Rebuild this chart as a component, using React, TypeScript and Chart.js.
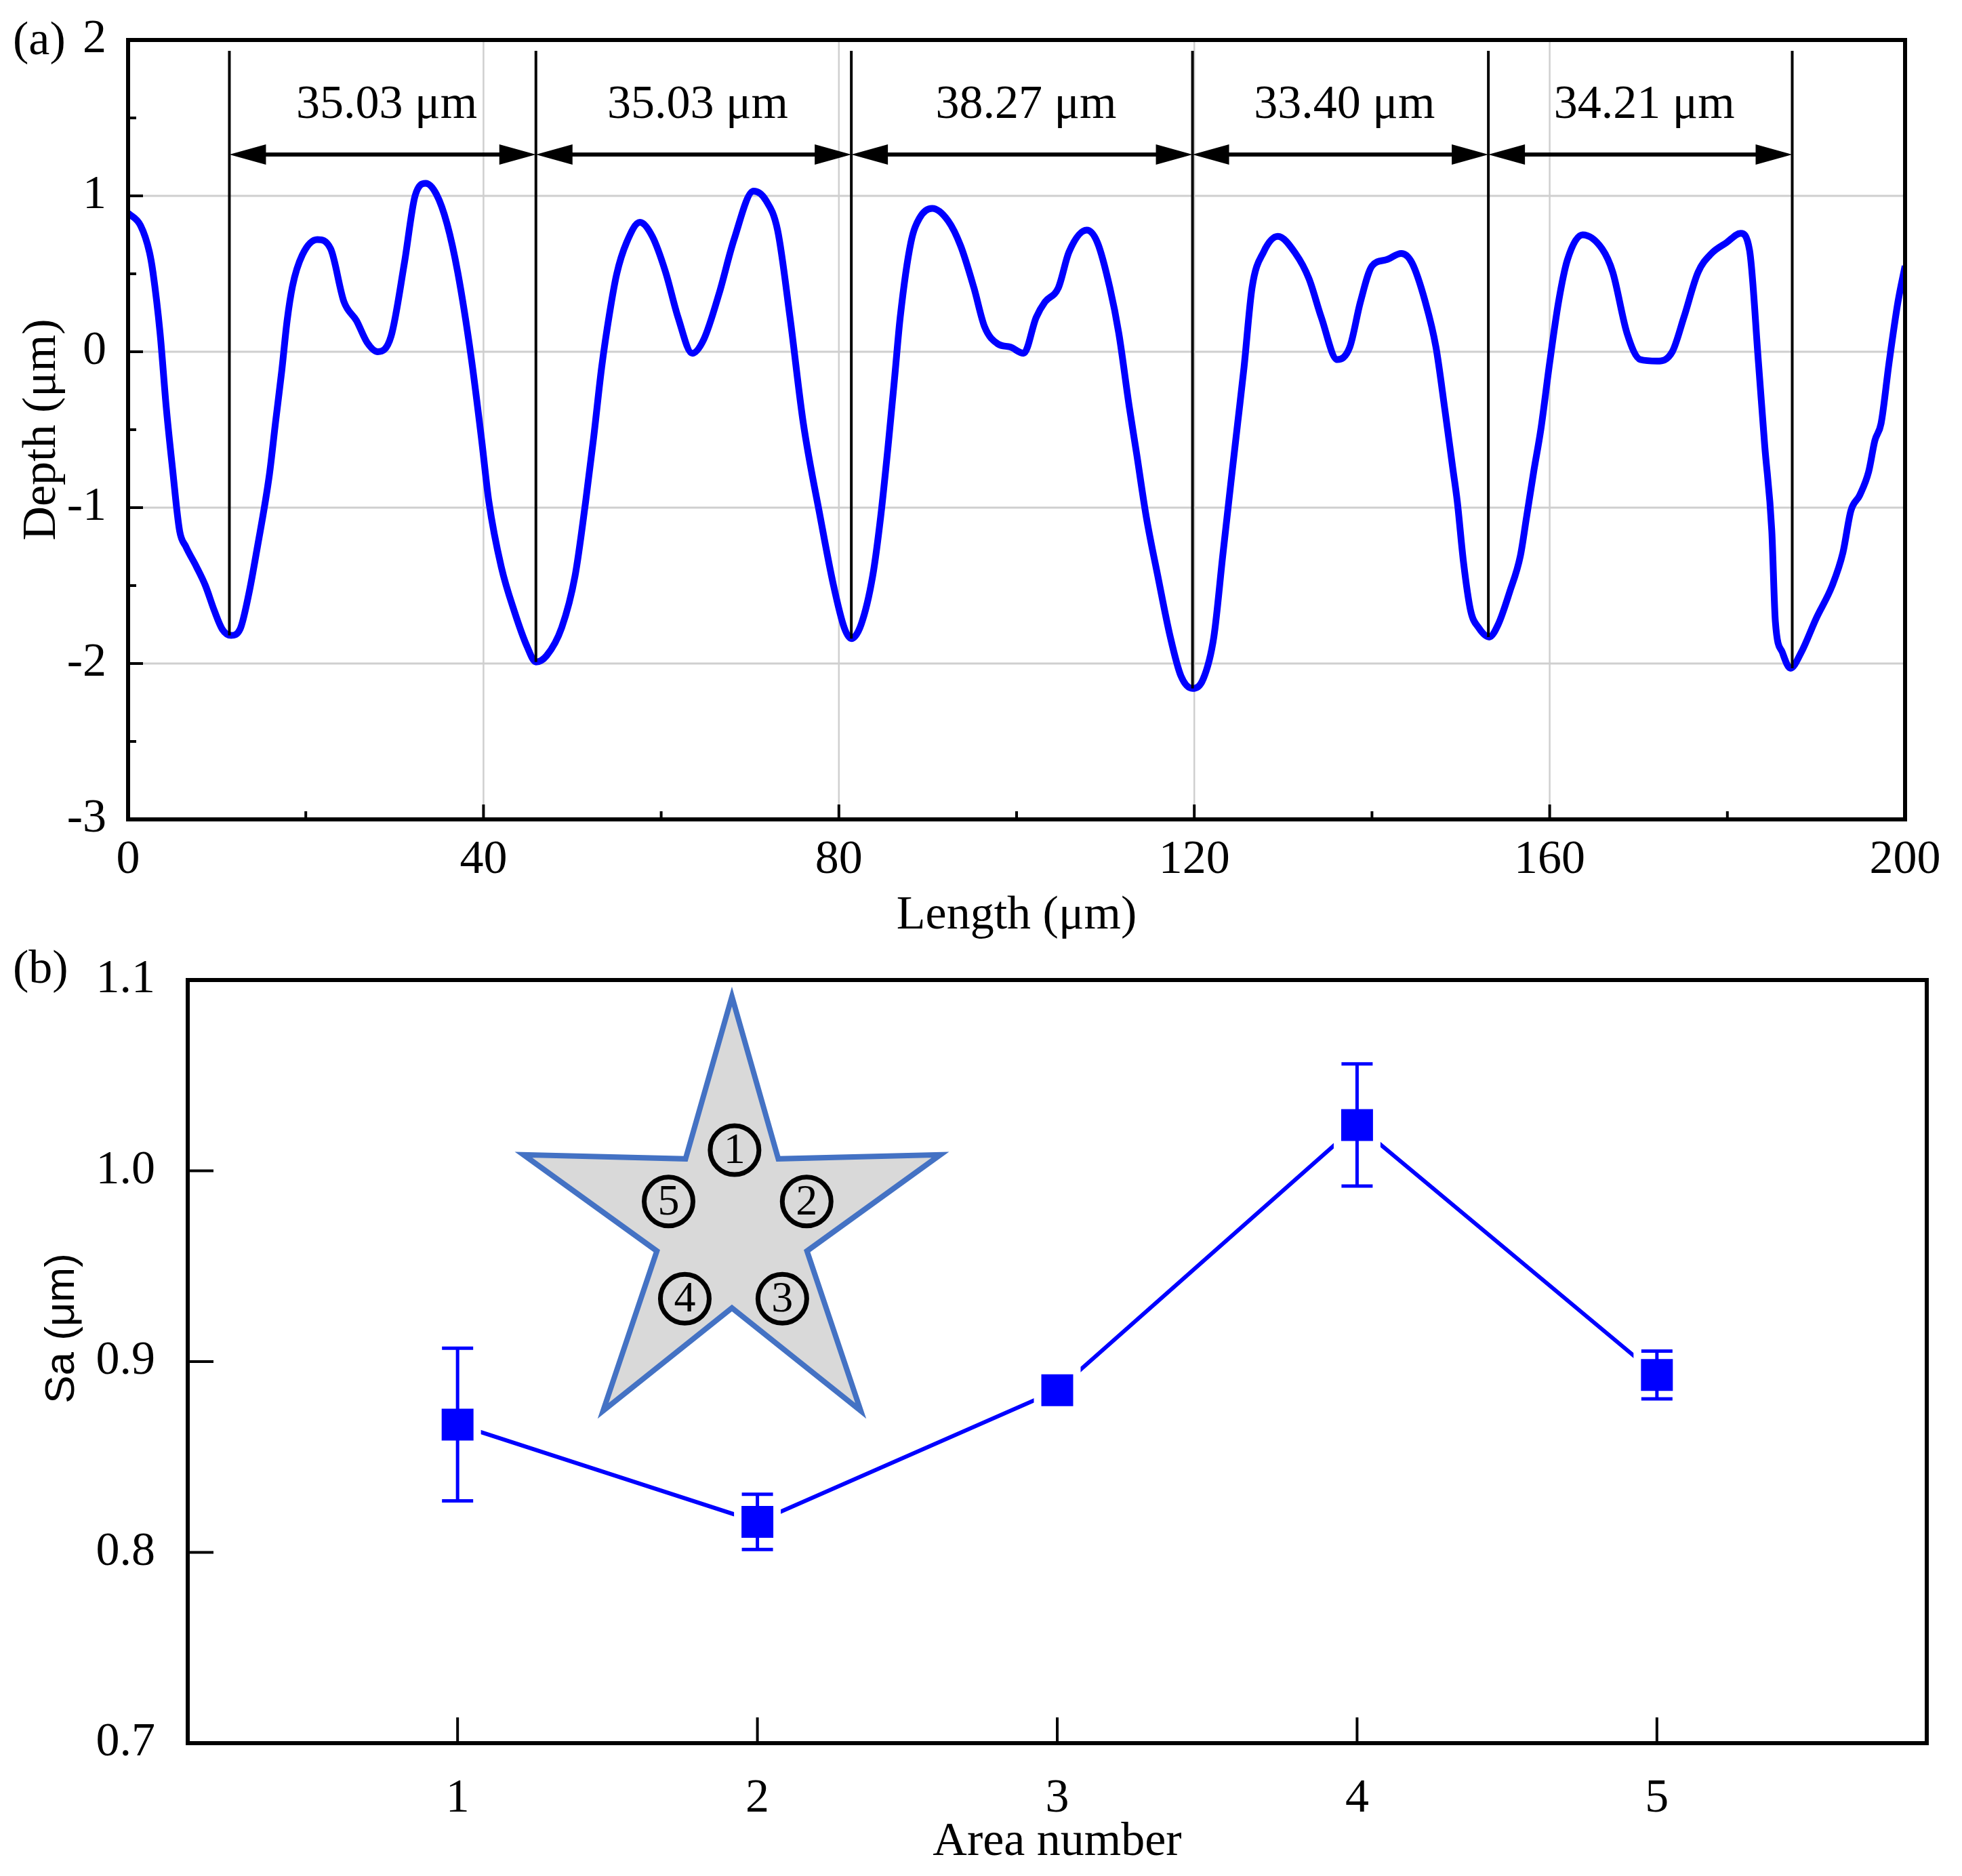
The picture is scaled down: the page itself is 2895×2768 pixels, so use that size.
import React, { useEffect, useRef } from 'react';
import { Chart, registerables } from 'chart.js';

Chart.register(...registerables);

// ---------- Panel (a): surface profile ----------
const lengthX = [
  0, 1.4, 2.4, 2.8, 3.6, 4.3, 5.0, 5.8, 6.5, 7.7,
  8.7, 9.7, 10.6, 11.6, 12.6, 13.6, 14.5, 15.9, 16.6, 17.3,
  17.9, 18.5, 19.6, 21.3, 22.8, 24.3, 25.7, 26.9, 28.1, 29.6,
  31.1, 32.3, 33.5, 34.7, 35.9, 37.1, 38.6, 39.8, 40.6, 42.0,
  43.5, 44.9, 45.9, 47.1, 48.8, 50.3, 51.5, 52.4, 53.3, 54.2,
  55.0, 56.1, 57.6, 59.0, 60.5, 61.9, 63.5, 64.8, 66.5, 68.2,
  70.4, 71.8, 73.1, 74.5, 76.0, 77.9, 79.4, 80.6, 81.4, 82.5,
  83.8, 84.7, 85.6, 86.3, 86.9, 88.1, 89.1, 90.5, 92.3, 93.7,
  95.2, 96.4, 97.9, 99.3, 100.8, 102.2, 103.2, 104.7, 105.9, 107.9,
  109.1, 110.5, 111.5, 112.7, 113.5, 114.6, 115.9, 117.3, 118.5, 119.8,
  121.0, 122.2, 123.2, 124.1, 124.9, 125.6, 126.5, 127.8, 129.4, 131.4,
  132.9, 134.3, 136.1, 137.5, 138.7, 140.0, 141.6, 143.3, 144.5, 146.0,
  147.2, 148.2, 149.1, 149.6, 150.3, 151.1, 152.0, 153.2, 154.2, 155.5,
  156.7, 157.4, 158.2, 159.0, 160.0, 161.0, 162.0, 163.7, 165.9, 167.1,
  168.7, 170.2, 172.1, 173.8, 175.1, 176.7, 178.2, 179.9, 181.5, 182.5,
  183.5, 184.2, 185.0, 185.4, 186.2, 187.1, 188.3, 190.0, 191.8, 193.0,
  193.9, 194.9, 195.9, 196.6, 197.3, 198.2, 199.2, 200,
];
const depthY = [
  0.89, 0.81, 0.64, 0.51, 0.12, -0.36, -0.75, -1.15, -1.25, -1.38,
  -1.5, -1.66, -1.78, -1.82, -1.78, -1.55, -1.27, -0.79, -0.45, -0.12,
  0.2, 0.42, 0.62, 0.72, 0.66, 0.32, 0.2, 0.06, 0.0, 0.1,
  0.57, 1.0, 1.08, 1.01, 0.82, 0.51, -0.03, -0.57, -0.96, -1.38,
  -1.67, -1.89, -1.99, -1.95, -1.77, -1.44, -0.96, -0.55, -0.1, 0.25,
  0.5, 0.7, 0.83, 0.74, 0.51, 0.22, -0.01, 0.08, 0.37, 0.72,
  1.03, 0.97, 0.78, 0.22, -0.46, -1.06, -1.5, -1.77, -1.84, -1.75,
  -1.44, -1.06, -0.57, -0.15, 0.22, 0.7, 0.86, 0.92, 0.84, 0.68,
  0.41, 0.16, 0.05, 0.03, -0.01, 0.22, 0.32, 0.41, 0.64, 0.78,
  0.7, 0.41, 0.12, -0.36, -0.65, -1.06, -1.44, -1.83, -2.08, -2.16,
  -2.1, -1.83, -1.31, -0.85, -0.45, -0.1, 0.41, 0.64, 0.74, 0.63,
  0.47, 0.22, -0.05, 0.03, 0.32, 0.55, 0.59, 0.63, 0.57, 0.32,
  0.03, -0.37, -0.75, -0.96, -1.35, -1.66, -1.77, -1.83, -1.75, -1.54,
  -1.31, -1.06, -0.77, -0.5, -0.07, 0.32, 0.59, 0.75, 0.66, 0.51,
  0.12, -0.05, -0.06, 0.0, 0.22, 0.51, 0.63, 0.7, 0.76, 0.65,
  -0.07, -0.6, -1.15, -1.73, -1.93, -2.03, -1.93, -1.71, -1.5, -1.29,
  -1.02, -0.92, -0.77, -0.57, -0.46, -0.07, 0.32, 0.55,
];
const boundaryX = [11.4, 45.9, 81.4, 119.8, 153.1, 187.3];
const boundaryBottom = [-1.82, -1.99, -1.84, -2.16, -1.83, -2.03];
const boundaryTop = 1.93;
const spacingLabels = ['35.03 μm', '35.03 μm', '38.27 μm', '33.40 μm', '34.21 μm'];
const xTicksA = [0, 40, 80, 120, 160, 200];
const xMinorA = [20, 60, 100, 140, 180];
const yTicksA = [-3, -2, -1, 0, 1, 2];
const yMinorA = [-2.5, -1.5, -0.5, 0.5, 1.5];

// ---------- Panel (b): Sa per area ----------
const areaNumbers = [1, 2, 3, 4, 5];
const saValues = [0.867, 0.816, 0.885, 1.024, 0.893];
const saErrors = [0.04, 0.0145, 0.004, 0.032, 0.0125];
const xTicksB = [1, 2, 3, 4, 5];
const yTicksB = [0.7, 0.8, 0.9, 1.0, 1.1];
const yTickLabelsB = ['0.7', '0.8', '0.9', '1.0', '1.1'];
const starAreaLabels = ['1', '2', '3', '4', '5'];

const SERIF = '"Liberation Serif", "Times New Roman", serif';
const SANS = '"Liberation Sans", Arial, sans-serif';
const BLUE = '#0000ff';

const panelAPlugin = {
  id: 'panelA',
  beforeDatasetsDraw(chart: any) {
    const { ctx, chartArea: ca, scales } = chart;
    const x = scales.x, y = scales.y;
    ctx.save();
    ctx.strokeStyle = '#cfcfcf';
    ctx.lineWidth = 3;
    yTicksA.forEach((v) => {
      if (v === -3 || v === 2) return;
      const py = y.getPixelForValue(v);
      ctx.beginPath(); ctx.moveTo(ca.left, py); ctx.lineTo(ca.right, py); ctx.stroke();
    });
    ctx.lineWidth = 2.5;
    xTicksA.forEach((v) => {
      if (v === 0 || v === 200) return;
      const px = x.getPixelForValue(v);
      ctx.beginPath(); ctx.moveTo(px, ca.top); ctx.lineTo(px, ca.bottom); ctx.stroke();
    });
    ctx.restore();
  },
  afterDatasetsDraw(chart: any) {
    const { ctx, chartArea: ca, scales } = chart;
    const x = scales.x, y = scales.y;
    ctx.save();
    // dimension arrows
    const ay = y.getPixelForValue(1.265);
    const headL = 54, headW = 15;
    ctx.fillStyle = '#000';
    ctx.strokeStyle = '#000';
    for (let i = 0; i < boundaryX.length - 1; i++) {
      const x1 = x.getPixelForValue(boundaryX[i]);
      const x2 = x.getPixelForValue(boundaryX[i + 1]);
      ctx.lineWidth = 6;
      ctx.beginPath(); ctx.moveTo(x1 + headL - 4, ay); ctx.lineTo(x2 - headL + 4, ay); ctx.stroke();
      ctx.beginPath(); ctx.moveTo(x1, ay); ctx.lineTo(x1 + headL, ay - headW); ctx.lineTo(x1 + headL, ay + headW); ctx.closePath(); ctx.fill();
      ctx.beginPath(); ctx.moveTo(x2, ay); ctx.lineTo(x2 - headL, ay - headW); ctx.lineTo(x2 - headL, ay + headW); ctx.closePath(); ctx.fill();
      ctx.font = `70px ${SERIF}`;
      ctx.textAlign = 'center';
      ctx.textBaseline = 'middle';
      ctx.fillText(spacingLabels[i], (x1 + x2) / 2 + 6, y.getPixelForValue(1.58));
    }
    // frame
    ctx.lineWidth = 6;
    ctx.strokeStyle = '#000';
    ctx.strokeRect(ca.left, ca.top, ca.right - ca.left, ca.bottom - ca.top);
    // inward ticks
    ctx.lineWidth = 4;
    const tick = (x0: number, y0: number, x1: number, y1: number) => {
      ctx.beginPath(); ctx.moveTo(x0, y0); ctx.lineTo(x1, y1); ctx.stroke();
    };
    yTicksA.forEach((v) => { const py = y.getPixelForValue(v); tick(ca.left, py, ca.left + 22, py); });
    yMinorA.forEach((v) => { const py = y.getPixelForValue(v); tick(ca.left, py, ca.left + 12, py); });
    xTicksA.forEach((v) => { const px = x.getPixelForValue(v); tick(px, ca.bottom, px, ca.bottom - 22); });
    xMinorA.forEach((v) => { const px = x.getPixelForValue(v); tick(px, ca.bottom, px, ca.bottom - 12); });
    // panel label
    ctx.font = `70px ${SERIF}`;
    ctx.textAlign = 'left';
    ctx.textBaseline = 'middle';
    ctx.fillStyle = '#000';
    ctx.fillText('(a)', 19, 62);
    ctx.restore();
  },
};

const panelBPlugin = {
  id: 'panelB',
  beforeDatasetsDraw(chart: any) {
    const { ctx, scales } = chart;
    const x = scales.x, y = scales.y;
    // star inset (placed in data coordinates)
    const cx = x.getPixelForValue(1.915);
    const cy = y.getPixelForValue(0.9713);
    const unit = x.getPixelForValue(2) - x.getPixelForValue(1);
    const R = 0.731 * unit;
    const r = 0.36 * R;
    const sy = 1.045;
    ctx.save();
    ctx.beginPath();
    for (let k = 0; k < 10; k++) {
      const ang = -Math.PI / 2 + (k * Math.PI) / 5;
      const rad = k % 2 === 0 ? R : r;
      const px = cx + rad * Math.cos(ang);
      const py = cy + rad * Math.sin(ang) * sy;
      if (k === 0) ctx.moveTo(px, py); else ctx.lineTo(px, py);
    }
    ctx.closePath();
    ctx.fillStyle = '#d9d9d9';
    ctx.fill();
    ctx.lineWidth = 8;
    ctx.lineJoin = 'miter';
    ctx.miterLimit = 10;
    ctx.strokeStyle = '#4472c4';
    ctx.stroke();
    const offs = [
      [0.012, -0.344], [0.341, -0.11], [0.23, 0.334], [-0.215, 0.334], [-0.289, -0.11],
    ];
    ctx.lineWidth = 7;
    ctx.strokeStyle = '#000';
    ctx.fillStyle = '#000';
    ctx.font = `64px ${SERIF}`;
    ctx.textAlign = 'center';
    ctx.textBaseline = 'middle';
    offs.forEach((o, i) => {
      const px = cx + o[0] * R;
      const py = cy + o[1] * R;
      ctx.beginPath(); ctx.arc(px, py, 36, 0, Math.PI * 2); ctx.stroke();
      ctx.fillText(starAreaLabels[i], px, py + 2);
    });
    ctx.restore();
  },
  afterDatasetsDraw(chart: any) {
    const { ctx, chartArea: ca, scales } = chart;
    const x = scales.x, y = scales.y;
    ctx.save();
    // error bars
    ctx.strokeStyle = BLUE;
    areaNumbers.forEach((a, i) => {
      const px = x.getPixelForValue(a);
      const pt = y.getPixelForValue(saValues[i] + saErrors[i]);
      const pb = y.getPixelForValue(saValues[i] - saErrors[i]);
      ctx.lineWidth = 5;
      ctx.beginPath(); ctx.moveTo(px, pt); ctx.lineTo(px, pb); ctx.stroke();
      ctx.beginPath(); ctx.moveTo(px - 23, pt); ctx.lineTo(px + 23, pt); ctx.stroke();
      ctx.beginPath(); ctx.moveTo(px - 23, pb); ctx.lineTo(px + 23, pb); ctx.stroke();
    });
    // frame
    ctx.lineWidth = 6;
    ctx.strokeStyle = '#000';
    ctx.strokeRect(ca.left, ca.top, ca.right - ca.left, ca.bottom - ca.top);
    ctx.lineWidth = 4;
    yTicksB.forEach((v) => {
      const py = y.getPixelForValue(v);
      ctx.beginPath(); ctx.moveTo(ca.left, py); ctx.lineTo(ca.left + 38, py); ctx.stroke();
    });
    xTicksB.forEach((v) => {
      const px = x.getPixelForValue(v);
      ctx.beginPath(); ctx.moveTo(px, ca.bottom); ctx.lineTo(px, ca.bottom - 38); ctx.stroke();
    });
    ctx.fillStyle = '#000';
    ctx.font = `70px ${SERIF}`;
    ctx.textAlign = 'left';
    ctx.textBaseline = 'middle';
    ctx.fillText('(b)', 19, 38);
    // y-axis title
    ctx.save();
    ctx.translate(92, 566);
    ctx.rotate(-Math.PI / 2);
    ctx.font = `62px ${SANS}`;
    ctx.textAlign = 'center';
    ctx.textBaseline = 'middle';
    ctx.fillText('Sa (μm)', 0, 0);
    ctx.restore();
    ctx.restore();
  },
};

const fitY = (w: number) => (s: any) => { s.width = w; s.paddingTop = 0; s.paddingBottom = 0; };
const fitX = (h: number) => (s: any) => { s.height = h; s.paddingLeft = 0; s.paddingRight = 0; };

export default function App() {
  const refA = useRef<HTMLCanvasElement | null>(null);
  const refB = useRef<HTMLCanvasElement | null>(null);

  useEffect(() => {
    const common = {
      animation: false as const,
      responsive: false,
      devicePixelRatio: 1,
      events: [] as any[],
      plugins: { legend: { display: false }, tooltip: { enabled: false } },
    };

    const chartA = new Chart(refA.current as HTMLCanvasElement, {
      type: 'line',
      data: {
        datasets: [
          {
            data: lengthX.map((v, i) => ({ x: v, y: depthY[i] })),
            borderColor: BLUE,
            borderWidth: 10,
            pointRadius: 0,
            cubicInterpolationMode: 'monotone',
            fill: false,
            order: 2,
          } as any,
          ...boundaryX.map((bx, i) => ({
            data: [{ x: bx, y: boundaryTop }, { x: bx, y: boundaryBottom[i] }],
            borderColor: '#000',
            borderWidth: 4,
            pointRadius: 0,
            fill: false,
            order: 1,
          })),
        ],
      },
      options: {
        ...common,
        layout: { padding: { left: 0, right: 84, top: 59, bottom: 0 } },
        scales: {
          x: {
            type: 'linear',
            min: 0,
            max: 200,
            afterBuildTicks: (s: any) => { s.ticks = xTicksA.map((v) => ({ value: v })); },
            afterFit: fitX(185),
            grid: { display: false, drawTicks: false },
            border: { display: false },
            ticks: {
              color: '#000', font: { family: SERIF, size: 70 }, padding: 19,
              maxRotation: 0, autoSkip: false, callback: (v: any) => String(v),
            },
            title: {
              display: true, text: 'Length (μm)', color: '#000',
              font: { family: SERIF, size: 70 }, padding: { top: 0, bottom: 0 },
            },
          },
          y: {
            type: 'linear',
            min: -3,
            max: 2,
            afterBuildTicks: (s: any) => { s.ticks = yTicksA.map((v) => ({ value: v })); },
            afterFit: fitY(189),
            grid: { display: false, drawTicks: false },
            border: { display: false },
            ticks: {
              color: '#000', font: { family: SERIF, size: 70 }, padding: 32,
              autoSkip: false, callback: (v: any) => String(v),
            },
            title: {
              display: true, text: 'Depth (μm)', color: '#000',
              font: { family: SERIF, size: 70 }, padding: { top: 21, bottom: 0 },
            },
          },
        },
      } as any,
      plugins: [panelAPlugin],
    });

    const chartB = new Chart(refB.current as HTMLCanvasElement, {
      type: 'line',
      data: {
        datasets: [
          {
            data: areaNumbers.map((a, i) => ({ x: a, y: saValues[i] })),
            borderColor: BLUE,
            borderWidth: 6,
            pointStyle: 'rect',
            pointRadius: 41,
            pointBackgroundColor: BLUE,
            pointBorderColor: '#ffffff',
            pointBorderWidth: 11,
            fill: false,
          } as any,
        ],
      },
      options: {
        ...common,
        layout: { padding: { left: 0, right: 31, top: 45, bottom: 0 } },
        scales: {
          x: {
            type: 'linear',
            min: 0.1,
            max: 5.9,
            afterBuildTicks: (s: any) => { s.ticks = xTicksB.map((v) => ({ value: v })); },
            afterFit: fitX(196),
            grid: { display: false, drawTicks: false },
            border: { display: false },
            ticks: {
              color: '#000', font: { family: SERIF, size: 70 }, padding: 41,
              maxRotation: 0, autoSkip: false, callback: (v: any) => String(v),
            },
            title: {
              display: true, text: 'Area number', color: '#000',
              font: { family: SERIF, size: 70 }, padding: { top: 0, bottom: 7 },
            },
          },
          y: {
            type: 'linear',
            min: 0.7,
            max: 1.1,
            afterBuildTicks: (s: any) => { s.ticks = yTicksB.map((v) => ({ value: v })); },
            afterFit: fitY(277),
            grid: { display: false, drawTicks: false },
            border: { display: false },
            ticks: {
              color: '#000', font: { family: SERIF, size: 70 }, padding: 48, autoSkip: false,
              callback: (v: any, i: number) => yTickLabelsB[i] ?? Number(v).toFixed(1),
            },
            title: { display: false },
          },
        },
      } as any,
      plugins: [panelBPlugin],
    });

    return () => {
      chartA.destroy();
      chartB.destroy();
    };
  }, []);

  return (
    <div style={{ position: 'absolute', left: 0, top: 0, width: 2895, height: 2768, background: '#fff' }}>
      <canvas ref={refA} width={2895} height={1394} style={{ position: 'absolute', left: 0, top: 0, width: 2895, height: 1394 }} />
      <canvas ref={refB} width={2895} height={1374} style={{ position: 'absolute', left: 0, top: 1394, width: 2895, height: 1374 }} />
    </div>
  );
}
